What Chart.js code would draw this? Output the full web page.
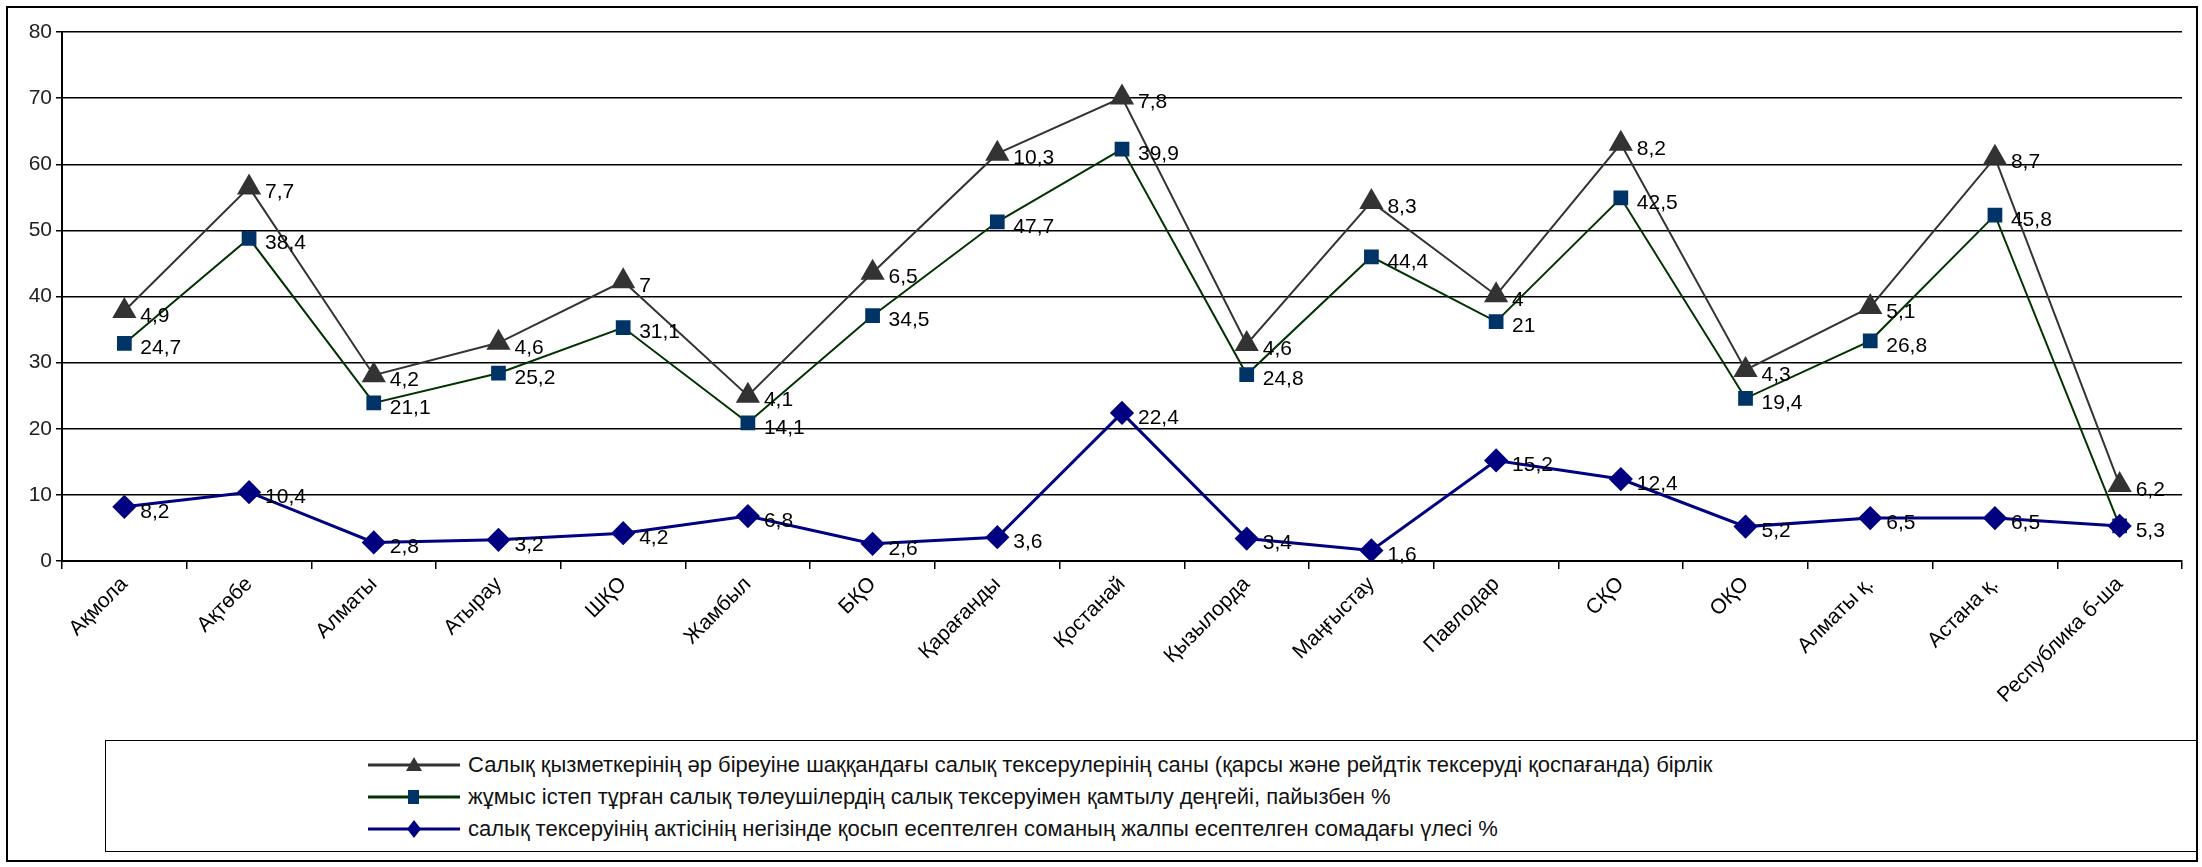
<!DOCTYPE html>
<html>
<head>
<meta charset="utf-8">
<script src="https://cdn.jsdelivr.net/npm/chart.js@4.4.0/dist/chart.umd.min.js"></script>
<style>
body { margin:0; background:#fff; width:2202px; height:867px; overflow:hidden; font-family:"Liberation Sans", Arial, sans-serif; }
#frame { position:absolute; left:6px; top:6px; width:2192px; height:856px; border:2px solid #000; box-sizing:border-box; }
#chartBox { position:absolute; left:10px; top:8px; width:2186px; height:700px; }
#legend { position:absolute; left:105px; top:740px; width:2093px; height:112px; border:1.5px solid #000; box-sizing:border-box; }
.row { position:absolute; left:262px; height:30px; display:flex; align-items:center; font-size:22px; color:#111; white-space:nowrap; }
.row svg { margin-right:8px; }
</style>
</head>
<body>
<div id="frame"></div>
<div id="chartBox"><canvas id="chart"></canvas></div>
<div id="legend"></div>

<script>
// regions
const regions = ['Ақмола', 'Ақтөбе', 'Алматы', 'Атырау', 'ШҚО', 'Жамбыл', 'БҚО', 'Қарағанды', 'Қостанай',
    'Қызылорда', 'Маңғыстау', 'Павлодар', 'СҚО', 'ОҚО', 'Алматы қ.', 'Астана қ.', 'Республика б-ша'];

// series (stacked, bottom first)
const shareValues = [8.2, 10.4, 2.8, 3.2, 4.2, 6.8, 2.6, 3.6, 22.4, 3.4, 1.6, 15.2, 12.4, 5.2, 6.5, 6.5, 5.3];
const coverageValues = [24.7, 38.4, 21.1, 25.2, 31.1, 14.1, 34.5, 47.7, 39.9, 24.8, 44.4, 21, 42.5, 19.4, 26.8, 45.8, 0];
const perEmployeeValues = [4.9, 7.7, 4.2, 4.6, 7, 4.1, 6.5, 10.3, 7.8, 4.6, 8.3, 4, 8.2, 4.3, 5.1, 8.7, 6.2];

const seriesNames = [
    'салық тексеруінің актісінің негізінде қосып есептелген соманың жалпы есептелген сомадағы үлесі %',
    'жұмыс істеп тұрған салық төлеушілердің салық тексеруімен қамтылу деңгейі, пайызбен %',
    'Салық қызметкерінің әр біреуіне шаққандағы салық тексерулерінің саны (қарсы және рейдтік тексеруді қоспағанда) бірлік'
];

const yTicks = [0, 10, 20, 30, 40, 50, 60, 70, 80];

// value labels next to every point
const valueLabels = {
    id: 'valueLabels',
    afterDatasetsDraw(chart) {
        const ctx = chart.ctx;
        ctx.save();
        ctx.font = '21px "Liberation Sans", Arial, sans-serif';
        ctx.fillStyle = '#000';
        ctx.textAlign = 'left';
        ctx.textBaseline = 'middle';
        chart.data.datasets.forEach((ds, i) => {
            const meta = chart.getDatasetMeta(i);
            meta.data.forEach((pt, j) => {
                const v = ds.data[j];
                if (!v) return;
                ctx.fillText(String(v).replace('.', ','), pt.x + 16, pt.y + 5);
            });
        });
        ctx.restore();
    }
};

const ctx = document.getElementById('chart').getContext('2d');
new Chart(ctx, {
    type: 'line',
    data: {
        labels: regions,
        datasets: [{
            label: seriesNames[0],
            data: shareValues,
            borderColor: '#000080',
            backgroundColor: '#000080',
            borderWidth: 3,
            pointStyle: 'rectRot',
            pointRadius: 10
        }, {
            label: seriesNames[1],
            data: coverageValues,
            borderColor: '#003300',
            backgroundColor: '#003366',
            pointBorderColor: '#003366',
            borderWidth: 2,
            pointStyle: 'rect',
            pointRadius: 9
        }, {
            label: seriesNames[2],
            data: perEmployeeValues,
            borderColor: '#333333',
            backgroundColor: '#333333',
            borderWidth: 2,
            pointStyle: 'triangle',
            pointRadius: 12
        }]
    },
    options: {
        responsive: true,
        maintainAspectRatio: false,
        animation: false,
        layout: { padding: { top: 24, right: 0, left: 0, bottom: 0 } },
        plugins: { legend: { display: false }, tooltip: { enabled: false } },
        scales: {
            x: {
                offset: true,
                grid: { display: true, drawOnChartArea: false, offset: true, color: '#000', tickLength: 8, lineWidth: 1.5 },
                border: { color: '#000', width: 2 },
                ticks: { color: '#000', font: { size: 21, family: '"Liberation Sans", Arial, sans-serif' },
                         autoSkip: false, minRotation: 45, maxRotation: 45 },
                afterFit: axis => { axis.height = 147; }
            },
            y: {
                stacked: true,
                min: 0,
                max: 80,
                afterBuildTicks: axis => { axis.ticks = yTicks.map(v => ({ value: v })); },
                grid: { color: '#000', lineWidth: 1.5, tickLength: 6 },
                border: { color: '#000', width: 2 },
                ticks: { color: '#222', padding: 4, font: { size: 21, family: '"Liberation Sans", Arial, sans-serif' } },
                afterFit: axis => { axis.width = 52; }
            }
        }
    },
    plugins: [valueLabels]
});

// legend box, same order as the reference (top series first)
const legendItems = [
    { name: seriesNames[2], color: '#333333', marker: 'tri' },
    { name: seriesNames[1], color: '#003300', fill: '#003366', marker: 'sq' },
    { name: seriesNames[0], color: '#000080', marker: 'dia' }
];
const legend = document.getElementById('legend');
legendItems.forEach((it, i) => {
    const row = document.createElement('div');
    row.className = 'row';
    row.style.top = (9 + i * 32) + 'px';
    let mk = '';
    const f = it.fill || it.color;
    if (it.marker === 'tri') mk = `<polygon points="46,2 54,16 38,16" fill="${f}"/>`;
    if (it.marker === 'sq') mk = `<rect x="40" y="3" width="11" height="14" fill="${f}"/>`;
    if (it.marker === 'dia') mk = `<polygon points="46,1 53,10 46,19 39,10" fill="${f}"/>`;
    row.innerHTML = `<svg width="92" height="20"><line x1="0" y1="10" x2="92" y2="10" stroke="${it.color}" stroke-width="3"/>${mk}</svg><span>${it.name}</span>`;
    legend.appendChild(row);
});
</script>
</body>
</html>
